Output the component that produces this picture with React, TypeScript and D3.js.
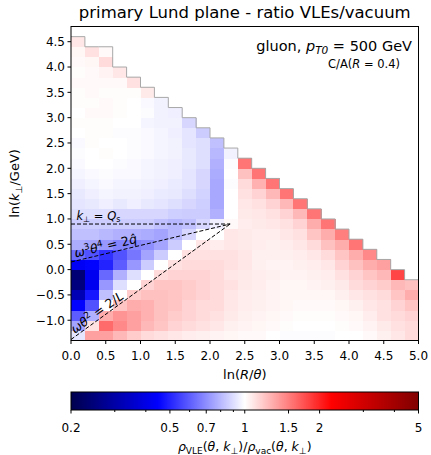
import * as d3 from 'd3';

// bin edges of the Lund plane histogram
const xEdges = [0.0, 0.2, 0.4, 0.6, 0.8, 1.0, 1.2, 1.4, 1.6, 1.8, 2.0, 2.2, 2.4, 2.6, 2.8, 3.0, 3.2, 3.4, 3.6, 3.8, 4.0, 4.2, 4.4, 4.6, 4.8, 5.0];
const yEdges = [-1.4, -1.2, -1.0, -0.8, -0.6, -0.4, -0.2, 0.0, 0.2, 0.4, 0.6, 0.8, 1.0, 1.2, 1.4, 1.6, 1.8, 2.0, 2.2, 2.4, 2.6, 2.8, 3.0, 3.2, 3.4, 3.6, 3.8, 4.0, 4.2, 4.4, 4.6, 4.8];

// ratio VLE/vacuum per ln(R/θ) column, listed from the lowest ln(kt) bin upwards
const c00 = [0.92, 0.75, 0.6, 0.45, 0.32, 0.25, 0.24, 0.43, 0.63, 0.77, 0.82, 0.85, 0.9, 0.92, 0.93, 0.95, 0.97, 0.98, 0.99, 0.98, 1.0, 1.01, 1.0, 1.01, 1.01, 1.02, 1.01, 1.02, 1.03, 1.08];
const c01 = [1.35, 1.1, 0.78, 0.58, 0.48, 0.42, 0.42, 0.45, 0.58, 0.75, 0.82, 0.85, 0.9, 0.93, 0.95, 0.97, 0.98, 1.0, 1.0, 1.01, 1.01, 1.01, 1.02, 1.01, 1.02, 1.02, 1.02, 1.03, 1.1];
const c02 = [1.35, 1.6, 1.3, 1.0, 0.82, 0.72, 0.62, 0.5, 0.52, 0.72, 0.8, 0.85, 0.9, 0.95, 0.97, 0.98, 0.99, 1.0, 1.01, 1.0, 1.01, 1.01, 1.02, 1.02, 1.01, 1.02, 1.04, 1.12, 1.02];
const c03 = [1.25, 1.45, 1.4, 1.2, 1.0, 0.9, 0.78, 0.6, 0.58, 0.68, 0.78, 0.85, 0.88, 0.93, 0.96, 0.97, 0.98, 0.99, 1.0, 1.0, 0.99, 1.0, 1.01, 1.01, 1.01, 1.02, 1.08];
const c04 = [1.18, 1.35, 1.35, 1.3, 1.18, 1.0, 0.9, 0.72, 0.65, 0.68, 0.78, 0.85, 0.88, 0.95, 0.96, 0.97, 0.98, 0.98, 0.99, 0.99, 0.99, 1.0, 1.0, 1.0, 1.01, 1.1];
const c05 = [1.12, 1.25, 1.28, 1.28, 1.22, 1.15, 1.0, 0.85, 0.75, 0.7, 0.77, 0.85, 0.88, 0.93, 0.95, 0.96, 0.97, 0.97, 0.98, 0.98, 0.98, 0.97, 0.99, 0.98, 1.07];
const c06 = [1.1, 1.2, 1.22, 1.22, 1.22, 1.2, 1.12, 1.0, 0.85, 0.75, 0.75, 0.82, 0.88, 0.92, 0.94, 0.95, 0.96, 0.96, 0.97, 0.97, 0.97, 0.96, 0.96, 0.96];
const c07 = [1.08, 1.15, 1.18, 1.2, 1.2, 1.2, 1.15, 1.1, 1.0, 0.85, 0.8, 0.8, 0.86, 0.9, 0.93, 0.94, 0.95, 0.95, 0.96, 0.96, 0.95, 0.96, 0.95];
const c08 = [1.06, 1.12, 1.15, 1.15, 1.18, 1.18, 1.15, 1.12, 1.1, 1.0, 0.88, 0.82, 0.85, 0.88, 0.9, 0.92, 0.92, 0.93, 0.93, 0.92, 0.92, 0.88];
const c09 = [1.05, 1.1, 1.12, 1.12, 1.15, 1.15, 1.15, 1.12, 1.1, 1.08, 1.0, 0.88, 0.85, 0.86, 0.87, 0.88, 0.88, 0.9, 0.9, 0.9, 0.85];
const c10 = [1.04, 1.08, 1.1, 1.12, 1.12, 1.12, 1.12, 1.12, 1.1, 1.06, 1.0, 0.95, 0.78, 0.76, 0.76, 0.76, 0.77, 0.78, 0.8, 0.82];
const c11 = [1.03, 1.05, 1.07, 1.08, 1.08, 1.1, 1.08, 1.1, 1.1, 1.08, 1.08, 1.02, 1.0, 1.0, 1.0, 0.99, 1.0, 0.99, 0.96];
const c12 = [1.02, 1.04, 1.05, 1.06, 1.06, 1.07, 1.07, 1.08, 1.08, 1.07, 1.07, 1.06, 1.07, 1.08, 1.1, 1.12, 1.22, 1.55];
const c13 = [1.02, 1.03, 1.04, 1.05, 1.05, 1.06, 1.06, 1.05, 1.05, 1.06, 1.06, 1.07, 1.08, 1.1, 1.15, 1.28, 1.55];
const c14 = [1.0, 1.02, 1.03, 1.04, 1.04, 1.04, 1.05, 1.04, 1.05, 1.05, 1.06, 1.08, 1.1, 1.15, 1.25, 1.55];
const c15 = [0.99, 1.01, 1.02, 1.03, 1.03, 1.03, 1.04, 1.04, 1.05, 1.06, 1.08, 1.1, 1.15, 1.25, 1.55];
const c16 = [0.99, 1.0, 1.01, 1.02, 1.03, 1.03, 1.04, 1.05, 1.06, 1.08, 1.1, 1.15, 1.25, 1.55];
const c17 = [0.99, 1.0, 1.01, 1.02, 1.03, 1.04, 1.05, 1.06, 1.08, 1.12, 1.2, 1.3, 1.55];
const c18 = [0.99, 1.0, 1.01, 1.02, 1.03, 1.05, 1.06, 1.08, 1.12, 1.22, 1.3, 1.55];
const c19 = [1.0, 1.01, 1.02, 1.03, 1.05, 1.07, 1.1, 1.15, 1.2, 1.3, 1.5];
const c20 = [1.0, 1.02, 1.03, 1.05, 1.08, 1.12, 1.15, 1.22, 1.3, 1.55];
const c21 = [1.02, 1.04, 1.06, 1.08, 1.1, 1.15, 1.2, 1.3, 1.45];
const c22 = [1.05, 1.07, 1.1, 1.1, 1.12, 1.18, 1.25, 1.35];
const c23 = [1.08, 1.1, 1.12, 1.15, 1.2, 1.25, 1.8];
const c24 = [1.12, 1.12, 1.15, 1.2, 1.3, 1.22];
const columns = [c00, c01, c02, c03, c04, c05, c06, c07, c08, c09, c10, c11, c12, c13, c14, c15, c16, c17, c18, c19, c20, c21, c22, c23, c24];

// guide lines [ln(R/θ), ln(kt)]
const qsLine = [[0, 0.9], [2.29, 0.9]];
const qhatLine = [[0, 0.15], [2.29, 0.9]];
const lengthLine = [[0, -1.38], [2.29, 0.9]];

const xTicks = [0.0, 0.5, 1.0, 1.5, 2.0, 2.5, 3.0, 3.5, 4.0, 4.5, 5.0];
const yTicks = [-1.0, -0.5, 0.0, 0.5, 1.0, 1.5, 2.0, 2.5, 3.0, 3.5, 4.0, 4.5];
const cbarMajor = [0.2, 0.5, 0.7, 1, 1.5, 2, 5];
const cbarMinor = [0.3, 0.4, 0.6, 0.8, 0.9, 3, 4];

const font = 'DejaVu Sans';

export default function App() {
  const x = d3.scaleLinear().domain([0, 5]).range([71, 418.5]);
  const y = d3.scaleLinear().domain([-1.4, 4.8]).range([340.5, 26.5]);
  const norm = d3.scaleLog().domain([0.2, 5]).range([0, 1]).clamp(true);
  const seismic = d3.scaleLinear<string>()
    .domain([0, 0.25, 0.5, 0.75, 1])
    .range(['#00004d', '#0000ff', '#ffffff', '#ff0000', '#800000']);
  const cb = d3.scaleLog().domain([0.2, 5]).range([71, 418.5]);
  const cbTop = 392, cbBottom = 410;
  const fmt = d3.format('.1f');
  const cbFmt = d3.format('~g');
  const line = d3.line<number[]>().x(d => x(d[0])).y(d => y(d[1]));

  // staircase outline of the filled phase space
  const stairs: number[][] = [];
  columns.forEach((col, c) => {
    stairs.push([xEdges[c], yEdges[col.length]], [xEdges[c + 1], yEdges[col.length]]);
  });

  const angle = (l: number[][]) => {
    const dx = x(l[1][0]) - x(l[0][0]);
    const dy = y(l[1][1]) - y(l[0][1]);
    return (Math.atan2(dy, dx) * 180) / Math.PI;
  };
  const at = (l: number[][], t: number) => [
    x(l[0][0] + (l[1][0] - l[0][0]) * t),
    y(l[0][1] + (l[1][1] - l[0][1]) * t),
  ];
  const qhatPos = at(qhatLine, 0.015);
  const lenPos = at(lengthLine, 0.02);

  return (
    <svg width={431} height={455} style={{ position: 'absolute', left: 0, top: 0, background: '#fff' }} fontFamily={font}>
      <defs>
        <linearGradient id="seismic" x1="0" x2="1" y1="0" y2="0">
          {[0, 0.25, 0.5, 0.75, 1].map(t => <stop key={t} offset={t} stopColor={seismic(t)} />)}
        </linearGradient>
        <clipPath id="plot">
          <rect x={x(0)} y={y(4.8)} width={x(5) - x(0)} height={y(-1.4) - y(4.8)} />
        </clipPath>
      </defs>

      <text x={(x(0) + x(5)) / 2} y={18} textAnchor="middle" fontSize={16.5}>primary Lund plane - ratio VLEs/vacuum</text>

      <g shapeRendering="crispEdges">
        {columns.map((col, c) => col.map((v, i) => (
          <rect key={`${c}-${i}`} x={x(xEdges[c])} y={y(yEdges[i + 1])}
            width={x(xEdges[c + 1]) - x(xEdges[c]) + 0.4} height={y(yEdges[i]) - y(yEdges[i + 1]) + 0.4}
            fill={seismic(norm(v))} />
        )))}
      </g>
      <path d={line(stairs) || ''} fill="none" stroke="#a8a8a8" strokeWidth={1} />

      <g clipPath="url(#plot)" fill="none" stroke="#000" strokeWidth={1} strokeDasharray="4,2">
        <path d={line(qsLine) || ''} />
        <path d={line(qhatLine) || ''} />
        <path d={line(lengthLine) || ''} />
      </g>

      <text x={x(0.08)} y={y(qsLine[0][1]) - 4} fontSize={11.5}>
        <tspan fontStyle="italic">k</tspan><tspan fontSize={8} dy={2}>⊥</tspan><tspan dy={-2}> = </tspan>
        <tspan fontStyle="italic">Q</tspan><tspan fontSize={8} dy={2}>s</tspan>
      </text>
      <text transform={`translate(${qhatPos[0] + 3},${qhatPos[1]}) rotate(${angle(qhatLine)}) translate(0,-4)`} fontSize={12.5}>
        <tspan fontStyle="italic">ω</tspan><tspan fontSize={9} dy={-5}>3</tspan><tspan fontStyle="italic" dy={5}>θ</tspan><tspan fontSize={9} dy={-5}>4</tspan><tspan dy={5}> = 2</tspan><tspan fontStyle="italic">q̂</tspan>
      </text>
      <text transform={`translate(${lenPos[0] + 3},${lenPos[1]}) rotate(${angle(lengthLine)}) translate(0,-4)`} fontSize={12.5}>
        <tspan fontStyle="italic">ωθ</tspan><tspan fontSize={9} dy={-5}>2</tspan><tspan dy={5}> = 2/</tspan><tspan fontStyle="italic">L</tspan>
      </text>

      <text x={412} y={51} textAnchor="end" fontSize={14.5}>
        gluon, <tspan fontStyle="italic">p</tspan><tspan fontStyle="italic" fontSize={10.5} dy={3}>T0</tspan><tspan dy={-3}> = 500 GeV</tspan>
      </text>
      <text x={400} y={68} textAnchor="end" fontSize={11.5}>
        C/A(<tspan fontStyle="italic">R</tspan> = 0.4)
      </text>

      <rect x={x(0)} y={y(4.8)} width={x(5) - x(0)} height={y(-1.4) - y(4.8)} fill="none" stroke="#000" strokeWidth={1} />

      {xTicks.map(t => (
        <g key={`x${t}`}>
          <line x1={x(t)} x2={x(t)} y1={y(-1.4)} y2={y(-1.4) + 3.5} stroke="#000" />
          <text x={x(t)} y={360} textAnchor="middle" fontSize={12}>{fmt(t)}</text>
        </g>
      ))}
      {yTicks.map(t => (
        <g key={`y${t}`}>
          <line x1={x(0) - 3.5} x2={x(0)} y1={y(t)} y2={y(t)} stroke="#000" />
          <text x={x(0) - 6} y={y(t) + 4.3} textAnchor="end" fontSize={12}>{fmt(t)}</text>
        </g>
      ))}
      <text x={(x(0) + x(5)) / 2} y={379} textAnchor="middle" fontSize={13}>
        ln(<tspan fontStyle="italic">R</tspan>/<tspan fontStyle="italic">θ</tspan>)
      </text>
      <text transform={`translate(19,${(y(-1.4) + y(4.8)) / 2}) rotate(-90)`} textAnchor="middle" fontSize={13}>
        ln(<tspan fontStyle="italic">k</tspan><tspan fontSize={9} dy={3}>⊥</tspan><tspan dy={-3}>/GeV)</tspan>
      </text>

      <rect x={cb(0.2)} y={cbTop} width={cb(5) - cb(0.2)} height={cbBottom - cbTop} fill="url(#seismic)" stroke="#000" strokeWidth={1} />
      {cbarMinor.map(t => (
        <line key={`m${t}`} x1={cb(t)} x2={cb(t)} y1={cbBottom} y2={cbBottom + 2} stroke="#000" />
      ))}
      {cbarMajor.map(t => (
        <g key={`c${t}`}>
          <line x1={cb(t)} x2={cb(t)} y1={cbBottom} y2={cbBottom + 3.5} stroke="#000" />
          <text x={cb(t)} y={432} textAnchor="middle" fontSize={12}>{cbFmt(t)}</text>
        </g>
      ))}
      <text x={(cb(0.2) + cb(5)) / 2} y={451} textAnchor="middle" fontSize={12.5}>
        <tspan fontStyle="italic">ρ</tspan><tspan fontSize={9} dy={3}>VLE</tspan><tspan dy={-3}>(</tspan><tspan fontStyle="italic">θ</tspan>, <tspan fontStyle="italic">k</tspan><tspan fontSize={9} dy={3}>⊥</tspan><tspan dy={-3}>)/</tspan><tspan fontStyle="italic">ρ</tspan><tspan fontSize={9} dy={3}>vac</tspan><tspan dy={-3}>(</tspan><tspan fontStyle="italic">θ</tspan>, <tspan fontStyle="italic">k</tspan><tspan fontSize={9} dy={3}>⊥</tspan><tspan dy={-3}>)</tspan>
      </text>
    </svg>
  );
}
